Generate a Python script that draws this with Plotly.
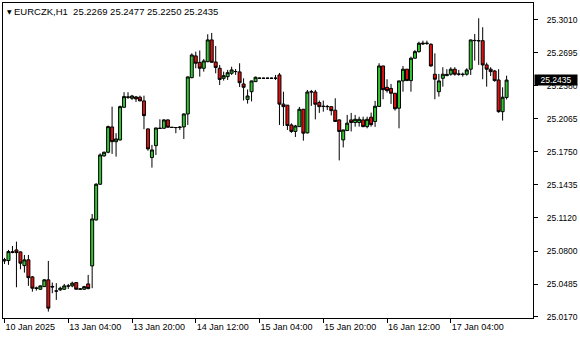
import pandas as pd
import plotly.graph_objects as go

# hourly bar times (weekend skipped)
times = list(pd.date_range("2025-01-10 12:00", "2025-01-10 23:00", freq="h")) + \
        list(pd.date_range("2025-01-13 00:00", "2025-01-17 18:00", freq="h"))
times = [t.strftime("%Y-%m-%d %H:%M") for t in times]

opens = [
25.0706, 25.0709, 25.0787, 25.0811, 25.0792, 25.0661, 25.0716, 25.0553, 25.0448, 25.0435,
25.0460, 25.0525, 25.0462, 25.0419, 25.0429, 25.0435, 25.0467, 25.0467, 25.0499, 25.0435,
25.0435, 25.0486, 25.0658, 25.1098, 25.1439, 25.1710, 25.1745, 25.1987, 25.1846, 25.1863,
25.2175, 25.2274, 25.2261, 25.2274, 25.2271, 25.2236, 25.1968, 25.1694, 25.1808, 25.1974,
25.1974, 25.2054, 25.1984, 25.1981, 25.1982, 25.1987, 25.2111, 25.2458, 25.2666, 25.2604,
25.2548, 25.2611, 25.2819, 25.2608, 25.2548, 25.2452, 25.2468, 25.2500, 25.2516, 25.2513,
25.2398, 25.2250, 25.2324, 25.2420, 25.2452, 25.2453, 25.2452, 25.2453, 25.2452, 25.2484,
25.2205, 25.2195, 25.2006, 25.1944, 25.1990, 25.2156, 25.1930, 25.2321, 25.2321, 25.2220,
25.2185, 25.2183, 25.2181, 25.2147, 25.2054, 25.1863, 25.1952, 25.2054, 25.2029, 25.2029,
25.2054, 25.1990, 25.2080, 25.2039, 25.2183, 25.2570, 25.2366, 25.2355, 25.2309, 25.2166,
25.2427, 25.2539, 25.2430, 25.2644, 25.2707, 25.2780, 25.2785, 25.2777, 25.2491, 25.2324,
25.2452, 25.2477, 25.2491, 25.2539, 25.2491, 25.2491, 25.2491, 25.2539, 25.2812, 25.2812,
25.2812, 25.2580, 25.2539, 25.2522, 25.2436, 25.2133, 25.2269]

highs = [
25.0735, 25.0811, 25.0849, 25.0890, 25.0797, 25.0763, 25.0763, 25.0562, 25.0460, 25.0472,
25.0531, 25.0706, 25.0499, 25.0493, 25.0460, 25.0486, 25.0486, 25.0508, 25.0501, 25.0445,
25.0467, 25.0572, 25.1155, 25.1449, 25.1735, 25.1751, 25.1999, 25.2181, 25.1927, 25.2191,
25.2319, 25.2319, 25.2293, 25.2283, 25.2286, 25.2286, 25.1973, 25.1815, 25.1980, 25.2060,
25.2060, 25.2060, 25.1987, 25.1984, 25.1996, 25.2116, 25.2470, 25.2691, 25.2707, 25.2718,
25.2637, 25.2873, 25.2886, 25.2761, 25.2580, 25.2516, 25.2532, 25.2563, 25.2541, 25.2596,
25.2452, 25.2345, 25.2429, 25.2468, 25.2458, 25.2458, 25.2458, 25.2458, 25.2484, 25.2503,
25.2324, 25.2197, 25.2021, 25.2006, 25.2178, 25.2159, 25.2341, 25.2341, 25.2341, 25.2239,
25.2239, 25.2197, 25.2183, 25.2261, 25.2060, 25.1961, 25.2102, 25.2121, 25.2102, 25.2085,
25.2085, 25.2085, 25.2124, 25.2236, 25.2596, 25.2572, 25.2443, 25.2398, 25.2312, 25.2429,
25.2570, 25.2541, 25.2659, 25.2723, 25.2802, 25.2812, 25.2812, 25.2787, 25.2691, 25.2494,
25.2558, 25.2539, 25.2558, 25.2558, 25.2532, 25.2506, 25.2548, 25.2821, 25.2876, 25.3026,
25.2940, 25.2602, 25.2558, 25.2532, 25.2539, 25.2366, 25.2477]

lows = [
25.0677, 25.0668, 25.0779, 25.0454, 25.0626, 25.0594, 25.0467, 25.0412, 25.0422, 25.0431,
25.0457, 25.0221, 25.0397, 25.0333, 25.0419, 25.0429, 25.0438, 25.0454, 25.0433, 25.0429,
25.0429, 25.0435, 25.0445, 25.1091, 25.1433, 25.1703, 25.1735, 25.1729, 25.1703, 25.1856,
25.2169, 25.2255, 25.2245, 25.2226, 25.2234, 25.1965, 25.1760, 25.1598, 25.1719, 25.1971,
25.1973, 25.1981, 25.1977, 25.1927, 25.1958, 25.1872, 25.2006, 25.2452, 25.2548, 25.2468,
25.2516, 25.2605, 25.2602, 25.2500, 25.2388, 25.2430, 25.2436, 25.2484, 25.2484, 25.2369,
25.2240, 25.2210, 25.2231, 25.2417, 25.2446, 25.2446, 25.2446, 25.2446, 25.2436, 25.2006,
25.1996, 25.1958, 25.1930, 25.1891, 25.1987, 25.1856, 25.1925, 25.2188, 25.2059, 25.2121,
25.2133, 25.2149, 25.2097, 25.2036, 25.1667, 25.1791, 25.1949, 25.1944, 25.1990, 25.1990,
25.1984, 25.1974, 25.1990, 25.1987, 25.2181, 25.2252, 25.2315, 25.2207, 25.2143, 25.1974,
25.2324, 25.2427, 25.2324, 25.2642, 25.2697, 25.2771, 25.2771, 25.2563, 25.2252, 25.2277,
25.2372, 25.2474, 25.2477, 25.2477, 25.2477, 25.2468, 25.2477, 25.2484, 25.2621, 25.2580,
25.2443, 25.2372, 25.2474, 25.2420, 25.2123, 25.2048, 25.2250]

closes = [
25.0716, 25.0795, 25.0792, 25.0785, 25.0684, 25.0716, 25.0546, 25.0445, 25.0443, 25.0467,
25.0525, 25.0254, 25.0457, 25.0417, 25.0445, 25.0467, 25.0465, 25.0493, 25.0435, 25.0438,
25.0460, 25.0441, 25.1107, 25.1439, 25.1719, 25.1745, 25.1990, 25.1846, 25.1872, 25.2181,
25.2277, 25.2271, 25.2283, 25.2255, 25.2236, 25.2095, 25.1777, 25.1767, 25.1977, 25.1973,
25.2054, 25.1984, 25.1982, 25.1981, 25.1984, 25.2111, 25.2465, 25.2675, 25.2596, 25.2548,
25.2618, 25.2819, 25.2605, 25.2556, 25.2441, 25.2477, 25.2506, 25.2532, 25.2517, 25.2410,
25.2366, 25.2283, 25.2427, 25.2462, 25.2453, 25.2452, 25.2453, 25.2452, 25.2453, 25.2205,
25.2181, 25.2001, 25.1944, 25.1996, 25.2156, 25.1927, 25.2321, 25.2323, 25.2204, 25.2181,
25.2183, 25.2181, 25.2143, 25.2039, 25.1943, 25.1958, 25.2023, 25.2029, 25.2060, 25.2060,
25.1990, 25.2060, 25.2009, 25.2185, 25.2570, 25.2343, 25.2334, 25.2309, 25.2161, 25.2427,
25.2539, 25.2430, 25.2644, 25.2707, 25.2787, 25.2787, 25.2787, 25.2570, 25.2443, 25.2427,
25.2491, 25.2489, 25.2539, 25.2491, 25.2492, 25.2489, 25.2532, 25.2819, 25.2814, 25.2811,
25.2580, 25.2539, 25.2516, 25.2430, 25.2133, 25.2271, 25.2435]

x_tick_idx = [0, 16, 32, 48, 64, 80, 96, 112]
x_tick_labels = ["10 Jan 2025", "13 Jan 04:00", "13 Jan 20:00", "14 Jan 12:00",
                 "15 Jan 04:00", "15 Jan 20:00", "16 Jan 12:00", "17 Jan 04:00"]
y_ticks = [25.0170, 25.0485, 25.0800, 25.1120, 25.1435, 25.1750, 25.2065, 25.2380, 25.2695, 25.3010]
title_text = "EURCZK,H1\u00a0\u00a025.2269 25.2477 25.2250 25.2435"
last_price = 25.2435

FONT = "Liberation Sans, Arial, sans-serif"

fig = go.Figure(go.Candlestick(
    x=times, open=opens, high=highs, low=lows, close=closes,
    increasing=dict(line=dict(color="black", width=1), fillcolor="#33c633"),
    decreasing=dict(line=dict(color="black", width=1), fillcolor="#dd1111"),
    whiskerwidth=0, hoverinfo="skip",
))

fig.update_layout(
    width=580, height=340,
    margin=dict(l=2, r=46, t=3, b=22),
    paper_bgcolor="white", plot_bgcolor="white",
    showlegend=False,
    boxgap=0.25, boxgroupgap=0,
    font=dict(family=FONT, size=9, color="black"),
    xaxis=dict(
        type="category", rangeslider=dict(visible=False),
        range=[-0.375, 132.625],
        tickmode="array", tickvals=[times[i] for i in x_tick_idx], ticktext=x_tick_labels,
        ticks="outside", ticklen=4, tickcolor="black", tickwidth=1,
        ticklabelposition="outside right",
        showline=True, linecolor="black", linewidth=1, mirror=True,
        showgrid=False, zeroline=False,
        tickfont=dict(family=FONT, size=9, color="black"),
    ),
    yaxis=dict(
        side="right", range=[25.0160, 25.3172],
        tickmode="array", tickvals=y_ticks, ticktext=[f"{v:.4f}" for v in y_ticks],
        ticks="outside", ticklen=4, tickcolor="black", tickwidth=1,
        ticklabelstandoff=7,
        showline=True, linecolor="black", linewidth=1, mirror=True,
        showgrid=False, zeroline=False,
        tickfont=dict(family=FONT, size=8.5, color="black"),
    ),
)

fig.add_annotation(xref="paper", yref="paper", x=0, y=1, xanchor="left", yanchor="middle",
                   xshift=2, yshift=-8, text="\u25bc", showarrow=False,
                   font=dict(family="DejaVu Sans", size=6, color="black"))
fig.add_annotation(xref="paper", yref="paper", x=0, y=1, xanchor="left", yanchor="middle",
                   xshift=9, yshift=-8, text=title_text, showarrow=False,
                   font=dict(family=FONT, size=9.5, color="black"))
fig.add_annotation(xref="paper", yref="y", x=1, y=last_price, xanchor="left", yanchor="middle",
                   xshift=1, text=f"{last_price:.4f}", showarrow=False,
                   bgcolor="black", borderpad=0, width=42, height=10, align="center",
                   font=dict(family=FONT, size=8.5, color="white"))

fig.write_html("out.html")
